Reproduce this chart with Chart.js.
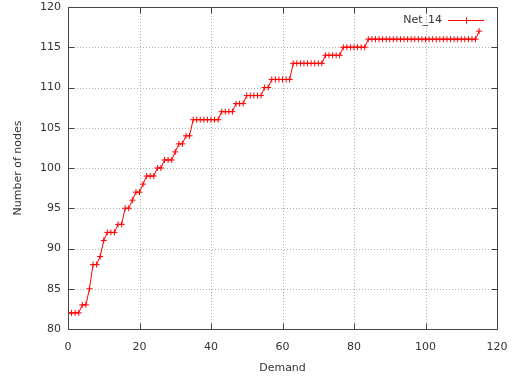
<!DOCTYPE html>
<html>
<head>
<meta charset="utf-8">
<script src="https://cdn.jsdelivr.net/npm/chart.js@4"></script>
<style>
  html, body { margin: 0; padding: 0; background: #fff; }
</style>
</head>
<body>
<canvas id="chart" width="517" height="380"></canvas>
<script>
// Number of nodes used by Net_14 as demand grows
const seriesName = 'Net_14';
const demand = [
  0, 1, 2, 3, 4, 5, 6, 7, 8, 9, 10, 11, 12, 13, 14, 15, 16, 17, 18, 19,
  20, 21, 22, 23, 24, 25, 26, 27, 28, 29, 30, 31, 32, 33, 34, 35, 36, 37, 38, 39,
  40, 41, 42, 43, 44, 45, 46, 47, 48, 49, 50, 51, 52, 53, 54, 55, 56, 57, 58, 59,
  60, 61, 62, 63, 64, 65, 66, 67, 68, 69, 70, 71, 72, 73, 74, 75, 76, 77, 78, 79,
  80, 81, 82, 83, 84, 85, 86, 87, 88, 89, 90, 91, 92, 93, 94, 95, 96, 97, 98, 99,
  100, 101, 102, 103, 104, 105, 106, 107, 108, 109, 110, 111, 112, 113, 114, 115
];
const nodes = [
  82, 82, 82, 82, 83, 83, 85, 88, 88, 89, 91, 92, 92, 92, 93, 93, 95, 95, 96, 97,
  97, 98, 99, 99, 99, 100, 100, 101, 101, 101, 102, 103, 103, 104, 104, 106, 106, 106, 106, 106,
  106, 106, 106, 107, 107, 107, 107, 108, 108, 108, 109, 109, 109, 109, 109, 110, 110, 111, 111, 111,
  111, 111, 111, 113, 113, 113, 113, 113, 113, 113, 113, 113, 114, 114, 114, 114, 114, 115, 115, 115,
  115, 115, 115, 115, 116, 116, 116, 116, 116, 116, 116, 116, 116, 116, 116, 116, 116, 116, 116, 116,
  116, 116, 116, 116, 116, 116, 116, 116, 116, 116, 116, 116, 116, 116, 116, 117
];

const RED = '#ff0000';
const TEXT = '#333333';
const FONT = { family: 'DejaVu Sans', size: 11 };

// gnuplot-like frame: dotted grid, box border, inward ticks on all four sides, legend top right
const gnuplotFrame = {
  id: 'gnuplotFrame',
  beforeDatasetsDraw(chart) {
    const { ctx, chartArea: a, scales: { x, y } } = chart;
    ctx.save();
    ctx.strokeStyle = '#b0b0b0';
    ctx.lineWidth = 1;
    ctx.setLineDash([1, 2]);
    ctx.beginPath();
    x.ticks.forEach(t => {
      const px = Math.round(x.getPixelForValue(t.value)) + 0.5;
      if (px > a.left + 1 && px < a.right - 1) { ctx.moveTo(px, a.top); ctx.lineTo(px, a.bottom); }
    });
    y.ticks.forEach(t => {
      const py = Math.round(y.getPixelForValue(t.value)) + 0.5;
      if (py > a.top + 1 && py < a.bottom - 1) { ctx.moveTo(a.left, py); ctx.lineTo(a.right, py); }
    });
    ctx.stroke();
    ctx.restore();
  },
  afterDatasetsDraw(chart) {
    const { ctx, chartArea: a, scales: { x, y } } = chart;
    const L = Math.round(a.left) + 0.5, R = Math.round(a.right) + 0.5;
    const T = Math.round(a.top) + 0.5, B = Math.round(a.bottom) + 0.5;
    const tick = 6;
    ctx.save();
    ctx.strokeStyle = '#444444';
    ctx.lineWidth = 1;
    ctx.beginPath();
    ctx.rect(L, T, R - L, B - T);
    x.ticks.forEach(t => {
      const px = Math.round(x.getPixelForValue(t.value)) + 0.5;
      ctx.moveTo(px, B); ctx.lineTo(px, B - tick);
      ctx.moveTo(px, T); ctx.lineTo(px, T + tick);
    });
    y.ticks.forEach(t => {
      const py = Math.round(y.getPixelForValue(t.value)) + 0.5;
      ctx.moveTo(L, py); ctx.lineTo(L + tick, py);
      ctx.moveTo(R, py); ctx.lineTo(R - tick, py);
    });
    ctx.stroke();
    ctx.restore();
  },
  afterDraw(chart) {
    const { ctx } = chart;
    const ds = chart.data.datasets[0];
    const ly = 20.5, x0 = 448, x1 = 484, xm = 466;
    ctx.save();
    ctx.font = `${FONT.size}px "${FONT.family}"`;
    ctx.fillStyle = TEXT;
    ctx.textAlign = 'right';
    ctx.textBaseline = 'middle';
    ctx.fillText(ds.label, 442, ly);
    ctx.strokeStyle = ds.borderColor;
    ctx.lineWidth = 1;
    ctx.beginPath();
    ctx.moveTo(x0, ly); ctx.lineTo(x1, ly);
    ctx.moveTo(xm - 3, ly); ctx.lineTo(xm + 3, ly);
    ctx.moveTo(xm + 0.5, ly - 3); ctx.lineTo(xm + 0.5, ly + 3);
    ctx.stroke();
    ctx.restore();
  }
};

new Chart(document.getElementById('chart').getContext('2d'), {
  type: 'line',
  data: {
    datasets: [{
      label: seriesName,
      data: demand.map((d, i) => ({ x: d, y: nodes[i] })),
      borderColor: RED,
      backgroundColor: RED,
      borderWidth: 1,
      pointStyle: 'cross',
      pointRadius: 3,
      pointBorderWidth: 1,
      pointBorderColor: RED,
      tension: 0,
      fill: false
    }]
  },
  options: {
    responsive: false,
    animation: false,
    layout: { padding: { left: 0, top: 0, right: 20, bottom: 0 } },
    plugins: { legend: { display: false }, tooltip: { enabled: false } },
    scales: {
      x: {
        type: 'linear',
        min: 0,
        max: 120,
        ticks: { stepSize: 20, font: FONT, color: TEXT, padding: 12, maxRotation: 0 },
        grid: { display: false, drawTicks: false },
        border: { display: false },
        title: { display: true, text: 'Demand', font: FONT, color: TEXT, padding: { top: 0, bottom: 5 } },
        afterFit(s) { s.height = 51; s.paddingLeft = 0; s.paddingRight = 0; }
      },
      y: {
        min: 80,
        max: 120,
        ticks: { stepSize: 5, font: FONT, color: TEXT, padding: 7 },
        grid: { display: false, drawTicks: false },
        border: { display: false },
        title: { display: true, text: 'Number of nodes', font: FONT, color: TEXT, padding: { top: 12, bottom: 0 } },
        afterFit(s) { s.width = 68; s.paddingTop = 7; s.paddingBottom = 0; }
      }
    }
  },
  plugins: [gnuplotFrame]
});
</script>
</body>
</html>
